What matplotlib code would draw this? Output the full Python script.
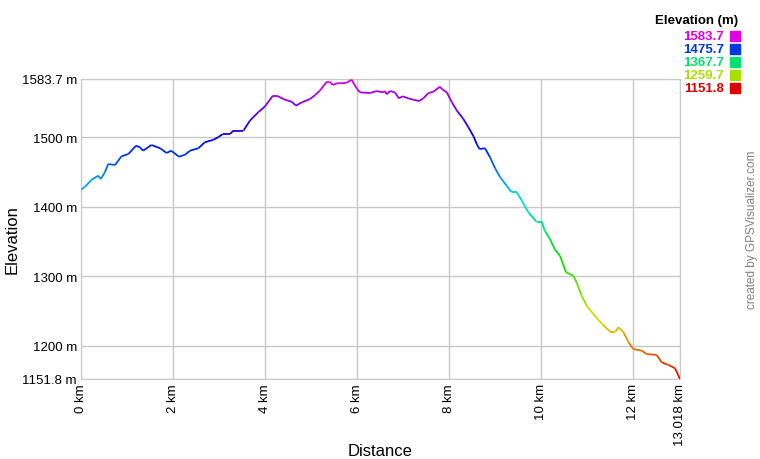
import numpy as np
import matplotlib.pyplot as plt
from matplotlib.collections import LineCollection
from matplotlib.colors import hsv_to_rgb

plt.rcParams['font.family'] = ['Liberation Sans', 'DejaVu Sans']

# distance (km) and elevation (m)
dist_km = [0.0, 0.087, 0.23, 0.376, 0.43, 0.52, 0.59, 0.74, 0.88, 1.03, 1.195, 1.28,
           1.35, 1.53, 1.72, 1.86, 1.96, 2.13, 2.26, 2.37, 2.55, 2.69, 2.88, 2.98,
           3.08, 3.24, 3.31, 3.53, 3.67, 3.85, 4.0, 4.17, 4.25, 4.43, 4.58, 4.67,
           4.80, 4.98, 5.09, 5.19, 5.34, 5.40, 5.47, 5.56, 5.76, 5.88, 5.99, 6.06,
           6.28, 6.43, 6.54, 6.61, 6.64, 6.72, 6.82, 6.91, 6.99, 7.11, 7.22, 7.35,
           7.44, 7.55, 7.66, 7.80, 7.86, 7.95, 8.06, 8.17, 8.31, 8.42, 8.53, 8.60,
           8.66, 8.78, 8.89, 9.00, 9.11, 9.25, 9.36, 9.47, 9.58, 9.72, 9.90, 10.01,
           10.08, 10.19, 10.30, 10.41, 10.54, 10.70, 10.77, 10.88, 10.99, 11.21,
           11.35, 11.50, 11.61, 11.68, 11.79, 11.90, 12.00, 12.19, 12.29, 12.51,
           12.62, 12.77, 12.91, 13.018]
elev_m = [1424.4, 1428.6, 1438.7, 1444.5, 1439.7, 1449.4, 1461.3, 1459.9, 1472.4,
          1475.7, 1487.7, 1485.4, 1480.5, 1488.7, 1484.0, 1477.2, 1480.5, 1471.8,
          1474.7, 1480.5, 1484.0, 1492.6, 1496.3, 1499.8, 1504.5, 1504.5, 1509.3,
          1509.3, 1523.7, 1535.7, 1544.4, 1559.7, 1559.7, 1553.9, 1551.0, 1545.3,
          1550.1, 1554.9, 1560.7, 1566.9, 1579.8, 1579.8, 1575.1, 1577.5, 1577.9,
          1582.7, 1570.3, 1564.5, 1563.5, 1566.4, 1564.5, 1566.0, 1561.7, 1566.4,
          1564.5, 1555.9, 1558.8, 1555.9, 1553.9, 1552.0, 1555.9, 1563.5, 1565.4,
          1572.6, 1568.3, 1564.5, 1550.1, 1538.1, 1526.1, 1514.2, 1501.2, 1490.1,
          1482.9, 1484.0, 1471.0, 1455.1, 1442.2, 1430.1, 1420.6, 1420.6, 1408.5,
          1391.8, 1378.3, 1378.3, 1365.3, 1353.3, 1338.0, 1329.3, 1305.4, 1300.5,
          1291.0, 1271.7, 1257.3, 1239.2, 1229.5, 1219.9, 1219.9, 1226.2, 1219.0,
          1204.6, 1195.0, 1192.5, 1187.8, 1186.4, 1175.8, 1172.0, 1167.2, 1151.8]

y_min, y_max = 1151.8, 1583.7
x_max = 13.018
y_ticks = [1151.8, 1200, 1300, 1400, 1500, 1583.7]
y_labels = ['1151.8 m', '1200 m', '1300 m', '1400 m', '1500 m', '1583.7 m']
x_ticks = [0, 2, 4, 6, 8, 10, 12, 13.018]
x_labels = ['0 km', '2 km', '4 km', '6 km', '8 km', '10 km', '12 km', '13.018 km']
legend_vals = [1583.7, 1475.7, 1367.7, 1259.7, 1151.8]


def elev_color(e):
    # hue goes red (lowest) -> magenta (highest)
    f = np.clip((np.asarray(e) - y_min) / (y_max - y_min), 0, 1)
    hsv = np.stack([f * 300 / 360, np.ones_like(f), np.full_like(f, 0.88)], axis=-1)
    return hsv_to_rgb(hsv)


fig = plt.figure(figsize=(7.6, 4.6), dpi=100)
ax = fig.add_axes([81 / 760, 1 - 380 / 460, 599 / 760, 300 / 460])

x = np.array(dist_km)
y = np.array(elev_m)
pts = np.column_stack([x, y]).reshape(-1, 1, 2)
segs = np.concatenate([pts[:-1], pts[1:]], axis=1)
lc = LineCollection(segs, colors=elev_color((y[:-1] + y[1:]) / 2), linewidths=1.3,
                    zorder=3)
ax.add_collection(lc)

ax.set_xlim(0, x_max)
ax.set_ylim(y_min, y_max)
ax.set_xticks(x_ticks)
ax.set_xticklabels(x_labels, rotation=90, fontsize=9.5)
ax.set_yticks(y_ticks)
ax.set_yticklabels(y_labels, fontsize=9.5)
ax.tick_params(length=0, pad=3)
ax.grid(True, color='#c8c8c8', linewidth=1)
for s in ax.spines.values():
    s.set_color('#c8c8c8')

# axis titles placed in figure pixels
fig.text(380 / 760, 1 - 452 / 460, 'Distance', ha='center', va='center', fontsize=12)
fig.text(12 / 760, 1 - 240 / 460, 'Elevation', ha='center', va='center',
         rotation=90, fontsize=12)

# colour legend at the top right
fig.text(738 / 760, 1 - 21 / 460, 'Elevation (m)', ha='right', va='center',
         fontsize=9.5, fontweight='bold')
for i, v in enumerate(legend_vals):
    yy = 1 - (37 + 13 * i) / 460
    c = elev_color(v)
    fig.text(724 / 760, yy, '%.1f' % v, ha='right', va='center', fontsize=9.5,
             fontweight='bold', color=c)
    fig.patches.append(plt.Rectangle((730 / 760, yy - 5 / 460), 10 / 760, 10 / 460,
                                     transform=fig.transFigure, color=c,
                                     figure=fig))

fig.text(752 / 760, 1 - 230 / 460, 'created by GPSVisualizer.com', rotation=90,
         ha='center', va='center', fontsize=8.5, color='#808080')

fig.savefig('out.png', dpi=100)
